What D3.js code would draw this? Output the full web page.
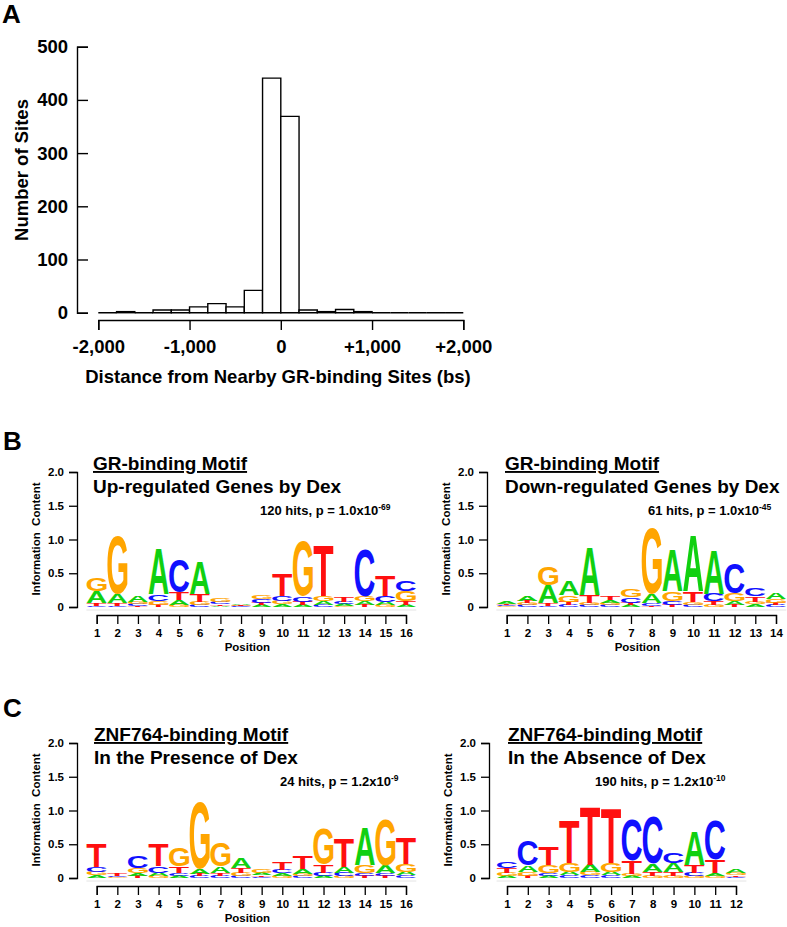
<!DOCTYPE html>
<html lang="en">
<head>
<meta charset="utf-8">
<style>
  html, body { margin:0; padding:0; background:#fff; overflow:hidden }
  svg { font-family: "Liberation Sans", Arial, Helvetica, sans-serif; font-weight: bold; }
</style>
</head>
<body>
<svg width="787" height="927"></svg>
<script src="https://cdn.jsdelivr.net/npm/d3@7"></script>
<script>
// ---- panel A: histogram ----
var histEdges = [-2000,-1800,-1600,-1400,-1200,-1000,-800,-600,-400,-200,0,200,400,600,800,1000,1200,1400,1600,1800,2000];
var histCounts = [0,2,0,5,5,11,17,11,42,441,369,5,2,6,2,0,0,0,0,0];
var distTicks = [-2000,-1000,0,1000,2000];
var distTickLabels = ["-2,000","-1,000","0","+1,000","+2,000"];
var countTicks = [0,100,200,300,400,500];

// ---- panels B, C: sequence logos, bits per position as [A, C, G, T] ----
var bases = ["A","C","G","T"];
var icTicks = [0,0.5,1,1.5,2];

var upRegMotif = [
  [.17,.02,.20,.04],[.14,.02,.85,.04],[.09,.03,.03,.02],[.68,.10,.06,.03],
  [.07,.48,.03,.12],[.47,.03,.05,.12],[.02,.03,.05,.02],[.02,.01,.01,.01],
  [.03,.06,.06,.03],[.04,.08,.05,.33],[.03,.08,.82,.05],[.06,.03,.08,.75],
  [.03,.03,.02,.07],[.06,.70,.07,.03],[.05,.09,.03,.30],[.03,.16,.15,.05]
];
var downRegMotif = [
  [.04,.02,.01,.02],[.07,.03,.03,.03],[.26,.02,.28,.04],[.21,.03,.10,.05],
  [.72,.03,.03,.12],[.04,.03,.03,.06],[.03,.08,.12,.03],[.13,.04,.98,.02],
  [.61,.06,.14,.03],[.82,.03,.04,.16],[.66,.12,.03,.05],[.05,.44,.12,.03],
  [.04,.12,.04,.08],[.10,.03,.06,.03]
];
var dexPresentMotif = [
  [.04,.08,.05,.34],[.00,.02,.01,.03],[.04,.17,.07,.03],[.05,.10,.03,.32],
  [.03,.04,.27,.10],[.08,.03,1.00,.03],[.10,.03,.35,.04],[.16,.03,.05,.07],
  [.04,.02,.06,.02],[.04,.05,.03,.11],[.08,.03,.03,.20],[.03,.05,.52,.12],
  [.09,.05,.03,.42],[.56,.04,.12,.03],[.12,.04,.68,.03],[.05,.04,.12,.38]
];
var dexAbsentMotif = [
  [.03,.10,.05,.07],[.10,.36,.06,.03],[.03,.04,.12,.26],[.05,.04,.13,.64],
  [.11,.04,.05,.86],[.05,.04,.13,.81],[.03,.60,.03,.20],[.12,.71,.03,.06],
  [.13,.15,.03,.06],[.50,.05,.03,.12],[.04,.58,.03,.20],[.05,.02,.04,.02]
];

var FONT = '"Liberation Sans", Arial, Helvetica, sans-serif';
var baseColor = {A: "#10d010", C: "#1010ff", G: "#ffa500", T: "#ff0f0f"};

var svg = d3.select("svg");

// ink box of each letter, so the glyph can be stretched to fill its slot
var ctx = document.createElement("canvas").getContext("2d");
ctx.font = "bold 100px 'Liberation Sans'";
var glyph = {};
bases.forEach(function (b) {
  var m = ctx.measureText(b);
  glyph[b] = {l: m.actualBoundingBoxLeft, r: m.actualBoundingBoxRight,
              a: m.actualBoundingBoxAscent, d: m.actualBoundingBoxDescent};
});

function panelLabel(txt, x, y) {
  svg.append("text").attr("x", x).attr("y", y).attr("font-size", 26).text(txt);
}

// ---------- A ----------
panelLabel("A", 2, 23);

var hx = d3.scaleLinear().domain([-2000, 2000]).range([98.3, 463.3]);
var hy = d3.scaleLinear().domain([0, 500]).range([312.7, 46.7]);

svg.append("g").selectAll("path")
  .data(histCounts)
  .enter().append("path")
  .attr("d", function (c, i) {
    var x0 = hx(histEdges[i]), x1 = hx(histEdges[i + 1]);
    return "M" + x0 + "," + hy(0) + "V" + hy(c) + "H" + x1 + "V" + hy(0) + "Z";
  })
  .attr("fill", "#fff").attr("stroke", "#000").attr("stroke-width", 1.4);

var hyAxis = svg.append("g")
  .attr("transform", "translate(77,0)")
  .call(d3.axisLeft(hy).tickValues(countTicks).tickSize(-11).tickPadding(9));
var hxAxis = svg.append("g")
  .attr("transform", "translate(0,320)")
  .call(d3.axisBottom(hx).tickValues(distTicks).tickSize(10).tickPadding(10)
    .tickFormat(function (d, i) { return distTickLabels[i]; }));
[hyAxis, hxAxis].forEach(function (a) {
  a.attr("font-family", FONT).attr("font-size", 18.5);
  a.selectAll("path, line").attr("stroke-width", 1.4);
});

svg.append("text").attr("x", 278).attr("y", 383).attr("text-anchor", "middle")
  .attr("font-size", 18.5).text("Distance from Nearby GR-binding Sites (bs)");
svg.append("text").attr("transform", "translate(28,170) rotate(-90)")
  .attr("text-anchor", "middle").attr("font-size", 18.5).text("Number of Sites");

// ---------- logos ----------
function drawLogo(cfg) {
  var n = cfg.data.length;
  var x = d3.scaleLinear().domain([1, n]).range([cfg.x1, cfg.xn]);
  var step = (cfg.xn - cfg.x1) / (n - 1);
  var y = d3.scaleLinear().domain([0, 2]).range([cfg.y0, cfg.y0 - 135]);
  var g = svg.append("g");

  // faint baseline under the letters
  g.append("line").attr("x1", cfg.x1 - step / 2).attr("x2", cfg.xn + step / 2)
    .attr("y1", cfg.y0 + 3).attr("y2", cfg.y0 + 3)
    .attr("stroke", "#e4e4e4").attr("stroke-width", 1);

  cfg.data.forEach(function (col, i) {
    var stack = bases.map(function (b, k) { return {b: b, v: col[k]}; })
      .sort(function (p, q) { return p.v - q.v; });
    var acc = 0;
    var w = step * 0.97;
    stack.forEach(function (s) {
      if (s.v <= 0) return;
      var yb = y(acc), yt = y(acc + s.v);
      acc += s.v;
      var m = glyph[s.b];
      var sx = w / (m.l + m.r), sy = (yb - yt) / (m.a + m.d);
      g.append("text")
        .attr("transform", "translate(" + (x(i + 1) - w / 2) + "," + yb + ") scale(" + sx + "," + sy + ")")
        .attr("x", m.l).attr("y", -m.d)
        .attr("font-size", 100).attr("fill", baseColor[s.b])
        .text(s.b);
    });
  });

  var ya = g.append("g").attr("transform", "translate(" + cfg.ax + ",0)")
    .call(d3.axisLeft(y).tickValues(icTicks).tickSize(8).tickPadding(5)
      .tickFormat(function (d) { return d === 0 ? "0" : d.toFixed(1); }));
  var xa = g.append("g").attr("transform", "translate(0," + (cfg.y0 + 8) + ")")
    .call(d3.axisBottom(x).tickValues(d3.range(1, n + 1)).tickSize(9).tickPadding(5));
  [ya, xa].forEach(function (a) {
    a.attr("font-family", FONT).attr("font-size", 11.5);
    a.selectAll("path, line").attr("stroke-width", 1.3);
  });

  g.append("text").attr("x", (cfg.x1 + cfg.xn) / 2 - 4).attr("y", cfg.y0 + 44)
    .attr("text-anchor", "middle").attr("font-size", 11.5).text("Position");
  g.append("text")
    .attr("transform", "translate(" + (cfg.ax - 37) + "," + (cfg.y0 - 68) + ") rotate(-90)")
    .attr("text-anchor", "middle").attr("font-size", 11.5)
    .style("white-space", "pre").text("Information  Content");

  g.append("text").attr("x", cfg.tx).attr("y", cfg.y0 - 137)
    .attr("font-size", 19).attr("text-decoration", "underline").text(cfg.title);
  g.append("text").attr("x", cfg.tx).attr("y", cfg.y0 - 114)
    .attr("font-size", 19).text(cfg.subtitle);
  var st = g.append("text").attr("x", cfg.sx).attr("y", cfg.y0 - 92).attr("font-size", 13);
  st.append("tspan").text(cfg.stat);
  st.append("tspan").attr("dy", -5).attr("font-size", 8.5).text(cfg.sup);
}

panelLabel("B", 3, 450);
drawLogo({data: upRegMotif, x1: 96.7, xn: 406, ax: 77, y0: 607, tx: 93, sx: 260,
  title: "GR-binding Motif", subtitle: "Up-regulated Genes by Dex",
  stat: "120 hits, p = 1.0x10", sup: "-69"});
drawLogo({data: downRegMotif, x1: 506.7, xn: 776, ax: 487, y0: 607, tx: 505, sx: 648,
  title: "GR-binding Motif", subtitle: "Down-regulated Genes by Dex",
  stat: "61 hits, p = 1.0x10", sup: "-45"});

panelLabel("C", 3, 717);
drawLogo({data: dexPresentMotif, x1: 96.7, xn: 406, ax: 77, y0: 878, tx: 94, sx: 280,
  title: "ZNF764-binding Motif", subtitle: "In the Presence of Dex",
  stat: "24 hits, p = 1.2x10", sup: "-9"});
drawLogo({data: dexAbsentMotif, x1: 507, xn: 736, ax: 489, y0: 878, tx: 508, sx: 595,
  title: "ZNF764-binding Motif", subtitle: "In the Absence of Dex",
  stat: "190 hits, p = 1.2x10", sup: "-10"});
</script>
</body>
</html>
